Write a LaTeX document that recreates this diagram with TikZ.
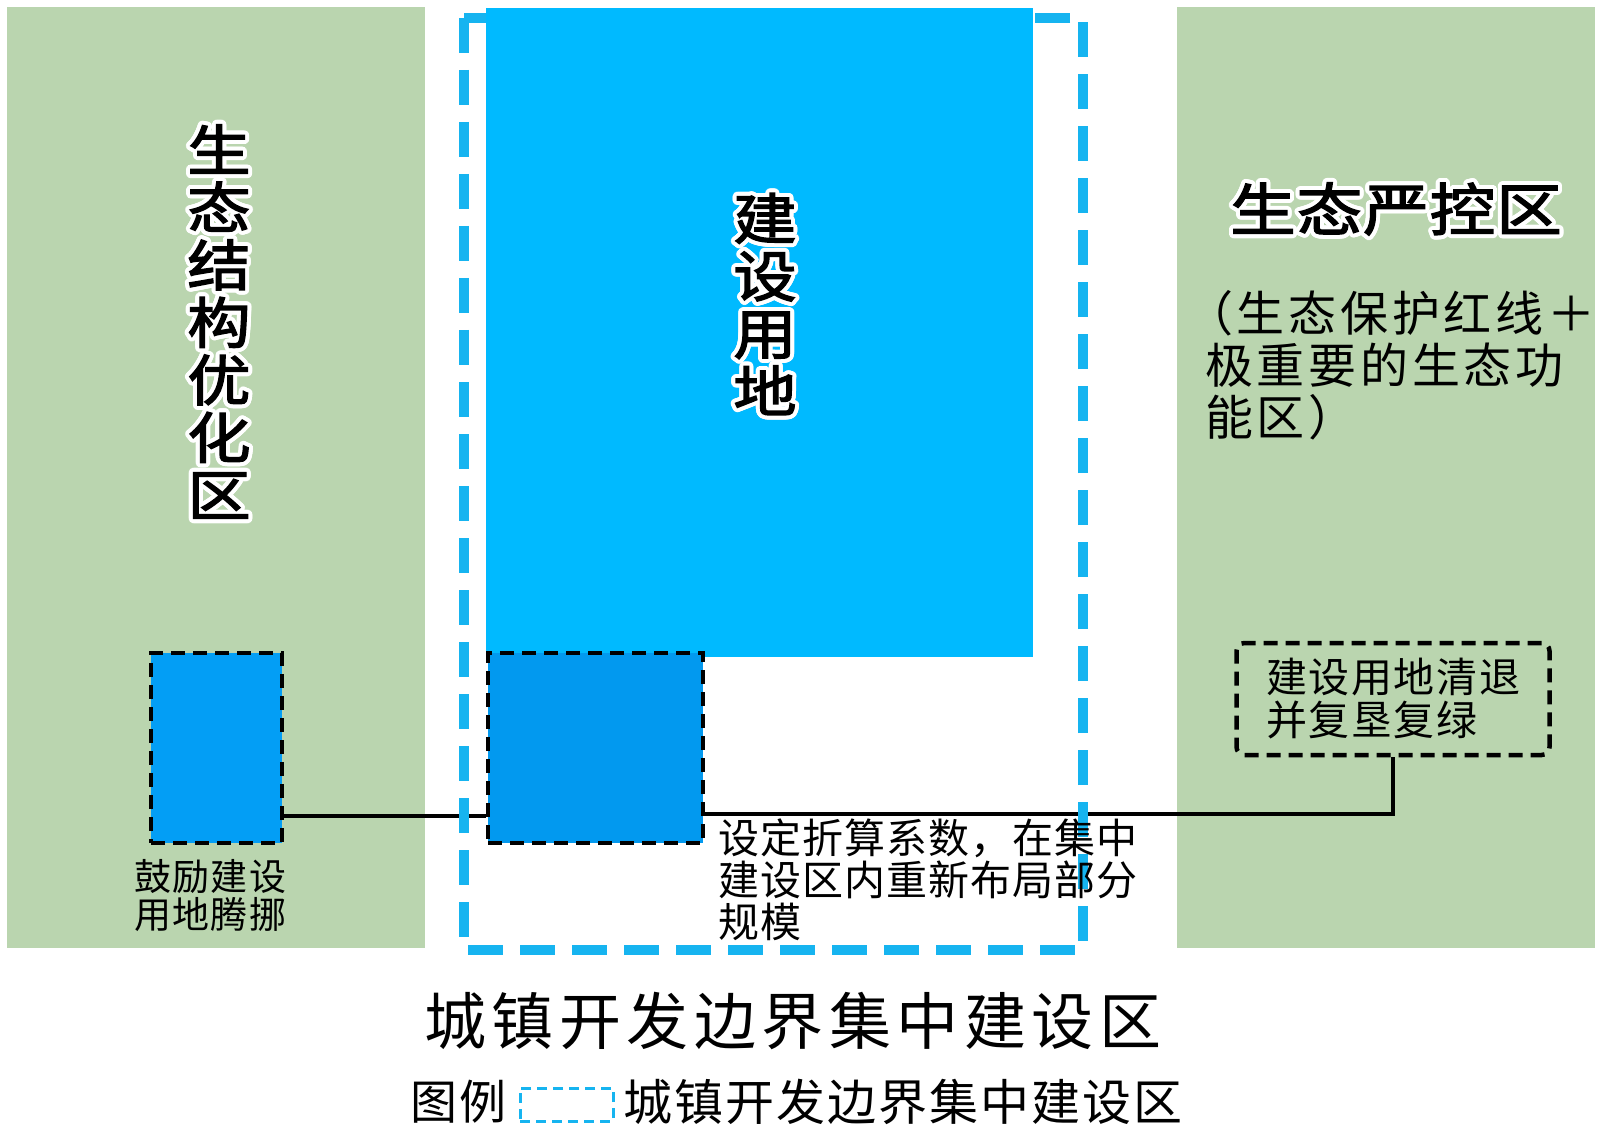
\documentclass[tikz,border=0pt]{standalone}
\usepackage{fontspec}
\setmainfont{Noto Sans CJK SC}
\newfontfamily\bigf{Noto Sans CJK SC}[FakeStretch=1.15, FakeBold=2.5]
\usepackage{contour}
\contourlength{4pt}
\contournumber{24}
\usetikzlibrary{calc}
\pgfdeclarelayer{bg}
\pgfdeclarelayer{lines}
\pgfdeclarelayer{mid}
\pgfsetlayers{bg,lines,mid,main}
\definecolor{eco}{RGB}{186,213,175}
\definecolor{build}{RGB}{0,186,255}
\definecolor{bound}{RGB}{22,180,240}
\definecolor{movebox}{RGB}{2,153,239}
\definecolor{leftbox}{RGB}{3,158,245}
\newdimen\lsk
\def\ls#1#2{\lsk=#1\relax\lsaux#2\relax}
\def\lsaux#1{\ifx\relax#1\else#1\expandafter\lsnext\fi}
\def\lsnext#1{\ifx\relax#1\else\kern\lsk#1\expandafter\lsnext\fi}
\newcommand\hl[1]{\contour{white}{#1}}
\begin{document}
\begin{tikzpicture}[x=1pt,y=-1pt,
  dashbox/.style={draw=black, line width=4.5pt, dash pattern=on 14pt off 8pt, inner sep=0pt},
  conn/.style={draw=black, line width=3.5pt},
  txt/.style={inner sep=0pt, align=left, text=black},
  biglbl/.style={inner sep=0pt, align=center, text=black, font=\bigf\fontsize{55pt}{57.5pt}\selectfont}]
\useasboundingbox (0,0) rectangle (1600,1131);
\begin{pgfonlayer}{bg}
  \fill[white] (0,0) rectangle (1600,1131);
  \fill[eco] (7,7) rectangle (425,948);
  \fill[eco] (1177,7) rectangle (1595,948);
\end{pgfonlayer}

% boxes
\node[dashbox, fill=leftbox, minimum width=131pt, minimum height=190pt] (lbox) at (216.5,748) {};
\node[dashbox, fill=movebox, minimum width=215pt, minimum height=190pt] (mbox) at (595.5,748) {};
\node[dashbox, rounded corners=8pt, minimum width=313pt, minimum height=112pt, align=left,
      font=\fontsize{41pt}{43pt}\selectfont] (rbox) at (1393,699)
      {\ls{1.6pt}{建设用地清退}\\\ls{1.6pt}{并复垦复绿}};

\begin{pgfonlayer}{lines}
  \draw[conn] ([yshift=-68pt]lbox.east) -- ([yshift=-68pt]mbox.west);
  \draw[conn] ([yshift=-66pt]mbox.east) -| (rbox.south);
\end{pgfonlayer}

\begin{pgfonlayer}{mid}
  \draw[bound, line width=10pt, dash pattern=on 35pt off 17pt] (464,18) rectangle (1083,950);
  \fill[build] (486,8) rectangle (1033,657);
\end{pgfonlayer}

% big labels
\node[biglbl] (ecoopt) at (219,323.5) {\hl{生}\\\hl{态}\\\hl{结}\\\hl{构}\\\hl{优}\\\hl{化}\\\hl{区}};
\node[biglbl] (buildlbl) at (765,306) {\hl{建}\\\hl{设}\\\hl{用}\\\hl{地}};
\node[inner sep=0pt, font=\bigf\fontsize{57pt}{60pt}\selectfont] (ecoctrl) at (1396,211) {\hl{\ls{1pt}{生态严控区}}};

% descriptive texts
\node[txt, anchor=west, font=\fontsize{48pt}{52pt}\selectfont] (paren) at (1205,365.7)
  {\kern-20pt\ls{3.7pt}{（生态保护红线＋}\\\ls{3.7pt}{极重要的生态功}\\\ls{3.7pt}{能区）}};
\node[txt, anchor=west, font=\fontsize{41pt}{42pt}\selectfont] (factor) at (718,879.3)
  {\ls{1pt}{设定折算系数，在集中}\\\ls{1pt}{建设区内重新布局部分}\\\ls{1pt}{规模}};
\node[txt, anchor=west, font=\fontsize{37pt}{38pt}\selectfont] (encour) at (134,896)
  {\ls{1.3pt}{鼓励建设}\\\ls{1.3pt}{用地腾挪}};

% title and legend
\node[inner sep=0pt, font=\fontsize{62pt}{64pt}\selectfont] (title) at (793,1021) {\ls{5.5pt}{城镇开发边界集中建设区}};
\node[txt, anchor=west, font=\fontsize{47pt}{48pt}\selectfont] (legt) at (410,1102) {\ls{2pt}{图例}};
\node[draw=bound, line width=3pt, dash pattern=on 10pt off 6pt, inner sep=0pt,
      minimum width=93pt, minimum height=33pt] (legbox) at (566.5,1104.5) {};
\node[txt, anchor=west, font=\fontsize{49pt}{50pt}\selectfont] (legname) at (623,1102) {\ls{2pt}{城镇开发边界集中建设区}};
\end{tikzpicture}
\end{document}
